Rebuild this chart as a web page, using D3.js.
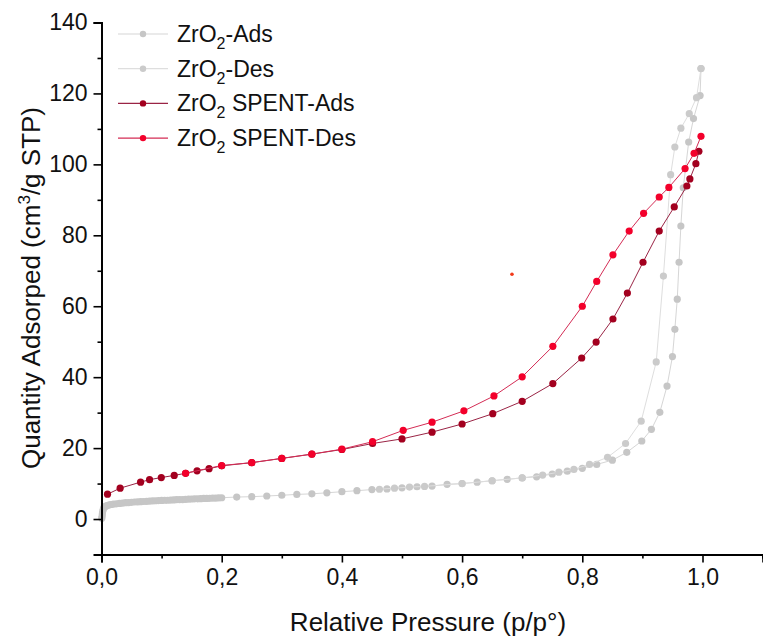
<!DOCTYPE html>
<html>
<head>
<meta charset="utf-8">
<script src="https://cdn.jsdelivr.net/npm/d3@7"></script>
<style>
  body { margin: 0; background: #fff; }
  svg { display: block; font-family: "Liberation Sans", Arial, sans-serif; }
</style>
</head>
<body>
<svg id="chart" width="763" height="643"></svg>
<script>
// isotherm data, [p/p°, quantity adsorbed]
var zrAds = [
  [0.0005, 0.2], [0.001, 0.8], [0.0015, 1.5], [0.002, 2.2], [0.003, 2.8], [0.004, 3.2],
  [0.006, 3.5], [0.008, 3.7], [0.010, 3.8], [0.013, 4.0], [0.016, 4.1], [0.020, 4.2],
  [0.025, 4.3], [0.030, 4.4], [0.035, 4.5], [0.040, 4.6], [0.045, 4.65], [0.050, 4.7],
  [0.055, 4.8], [0.060, 4.85], [0.065, 4.9], [0.070, 4.95], [0.075, 5.0], [0.080, 5.05],
  [0.085, 5.1], [0.090, 5.15], [0.095, 5.2], [0.100, 5.25], [0.105, 5.3], [0.110, 5.3],
  [0.115, 5.35], [0.120, 5.4], [0.125, 5.45], [0.130, 5.5], [0.135, 5.5], [0.140, 5.55],
  [0.145, 5.6], [0.150, 5.65], [0.155, 5.7], [0.160, 5.7], [0.165, 5.75], [0.170, 5.8],
  [0.175, 5.8], [0.180, 5.85], [0.185, 5.9], [0.190, 5.9], [0.195, 5.95], [0.200, 6.0],
  [0.225, 6.2], [0.250, 6.3], [0.275, 6.5], [0.300, 6.7], [0.325, 6.95], [0.350, 7.1],
  [0.375, 7.4], [0.400, 7.7], [0.425, 8.0], [0.450, 8.3], [0.475, 8.5], [0.500, 8.8],
  [0.525, 9.1], [0.550, 9.3], [0.575, 9.8], [0.600, 10.0], [0.625, 10.4], [0.650, 10.8],
  [0.675, 11.2], [0.700, 11.6], [0.724, 11.9], [0.750, 12.7], [0.775, 13.5], [0.800, 14.3],
  [0.824, 15.4], [0.850, 16.6], [0.874, 18.8], [0.899, 22.0], [0.915, 25.3], [0.929, 30.1],
  [0.941, 37.5], [0.950, 45.8], [0.954, 53.5], [0.958, 62.0], [0.961, 72.4], [0.964, 82.6],
  [0.968, 93.4], [0.977, 106.3], [0.985, 112.9], [0.996, 119.4], [0.9975, 127.0]
];
var zrDes = [
  [0.9975, 127.0], [0.990, 118.8], [0.978, 114.3], [0.964, 110.2], [0.954, 104.9],
  [0.947, 97.1], [0.935, 68.5], [0.923, 44.3], [0.898, 27.6], [0.872, 21.3], [0.842, 17.4],
  [0.812, 15.4], [0.786, 14.0], [0.761, 13.2], [0.734, 12.4], [0.700, 11.6], [0.650, 10.8],
  [0.600, 10.0], [0.5375, 9.2], [0.5125, 9.0], [0.4875, 8.7], [0.4625, 8.4]
];
var spentAds = [
  [0.010, 7.0], [0.031, 8.7], [0.065, 10.4], [0.080, 11.1], [0.0995, 11.7], [0.121, 12.3],
  [0.140, 12.9], [0.159, 13.6], [0.179, 14.2], [0.200, 15.0], [0.250, 15.9], [0.300, 17.1],
  [0.350, 18.3], [0.400, 19.6], [0.451, 21.3], [0.500, 22.6], [0.550, 24.5], [0.600, 26.8],
  [0.651, 29.7], [0.700, 33.2], [0.751, 38.2], [0.799, 45.4], [0.823, 49.9], [0.851, 56.4],
  [0.875, 63.7], [0.901, 72.4], [0.928, 81.2], [0.953, 88.0], [0.974, 93.9], [0.979, 95.9],
  [0.989, 100.2], [0.994, 103.7]
];
var spentDes = [
  [0.9975, 107.9], [0.986, 103.1], [0.971, 98.8], [0.944, 93.5], [0.928, 90.8],
  [0.902, 86.2], [0.878, 81.2], [0.851, 74.5], [0.824, 67.0], [0.800, 60.0], [0.751, 48.7],
  [0.700, 40.1], [0.653, 34.7], [0.603, 30.5], [0.550, 27.3], [0.502, 25.0], [0.451, 21.8],
  [0.400, 19.7], [0.350, 18.3], [0.300, 17.1], [0.250, 15.9], [0.200, 15.1], [0.140, 12.9]
];
var strayPoint = [[0.683, 69.0]];

var xTicks = [0, 0.2, 0.4, 0.6, 0.8, 1.0];
var xMinor = [0.1, 0.3, 0.5, 0.7, 0.9, 1.1];
var yTicks = [0, 20, 40, 60, 80, 100, 120, 140];
var yMinor = [-10, 10, 30, 50, 70, 90, 110, 130];

var series = [
  { name: 'ZrO', sub: '2', rest: '-Ads', data: zrAds, dot: '#c6c6c6', line: '#d6d6d6' },
  { name: 'ZrO', sub: '2', rest: '-Des', data: zrDes, dot: '#cbcbcb', line: '#dedede' },
  { name: 'ZrO', sub: '2', rest: ' SPENT-Ads', data: spentAds, dot: '#a3001f', line: '#9a2445' },
  { name: 'ZrO', sub: '2', rest: ' SPENT-Des', data: spentDes, dot: '#f3002b', line: '#d42c55' }
];

var svg = d3.select('#chart');
var x = d3.scaleLinear().domain([0, 1.1]).range([101.5, 762.6]);
var y = d3.scaleLinear().domain([-10, 140]).range([554.5, 22.5]);

var line = d3.line()
  .x(function(d) { return x(d[0]); })
  .y(function(d) { return y(d[1]); });

var plot = svg.append('g');
series.forEach(function(s) {
  plot.append('path').datum(s.data).attr('d', line)
    .attr('fill', 'none').attr('stroke', s.line).attr('stroke-width', 1);
  plot.selectAll(null).data(s.data).enter().append('circle')
    .attr('cx', function(d) { return x(d[0]); })
    .attr('cy', function(d) { return y(d[1]); })
    .attr('r', 3.6)
    .attr('fill', s.dot);
});
plot.selectAll(null).data(strayPoint).enter().append('circle')
  .attr('cx', function(d) { return x(d[0]); })
  .attr('cy', function(d) { return y(d[1]); })
  .attr('r', 1.8).attr('fill', '#f23a1a');

// axes
svg.append('g').attr('transform', 'translate(0,' + y(-10) + ')')
  .call(d3.axisBottom(x).tickValues(xTicks).tickSize(8).tickPadding(6)
    .tickFormat(function(d) { return d3.format('.1f')(d).replace('.', ','); }));
svg.append('g').attr('transform', 'translate(0,' + y(-10) + ')')
  .call(d3.axisBottom(x).tickValues(xMinor).tickSize(4).tickFormat(''));
svg.append('g').attr('transform', 'translate(' + x(0) + ',0)')
  .call(d3.axisLeft(y).tickValues(yTicks).tickSize(8).tickPadding(6));
svg.append('g').attr('transform', 'translate(' + x(0) + ',0)')
  .call(d3.axisLeft(y).tickValues(yMinor).tickSize(4).tickFormat(''));

svg.selectAll('.domain').attr('stroke', '#000').attr('stroke-width', 1.8);
svg.selectAll('.tick line').attr('stroke', '#000').attr('stroke-width', 1.6);
svg.selectAll('.tick text').attr('font-size', 23).attr('fill', '#111')
  .attr('font-family', '"Liberation Sans", Arial, sans-serif');

// axis titles
svg.append('text').attr('x', 428).attr('y', 631).attr('text-anchor', 'middle')
  .attr('font-size', 26).attr('fill', '#111').text('Relative Pressure (p/p°)');

var yt = svg.append('text').attr('transform', 'translate(40,288) rotate(-90)')
  .attr('text-anchor', 'middle').attr('font-size', 26).attr('fill', '#111');
yt.append('tspan').text('Quantity Adsorped (cm');
yt.append('tspan').attr('dy', -10).attr('font-size', 17).text('3');
yt.append('tspan').attr('dy', 10).text('/g STP)');

// legend
var legend = svg.append('g');
series.forEach(function(s, i) {
  var ly = 34 + i * 34.7;
  legend.append('line').attr('x1', 118).attr('x2', 168).attr('y1', ly).attr('y2', ly)
    .attr('stroke', s.line).attr('stroke-width', 1.2);
  legend.append('circle').attr('cx', 143).attr('cy', ly).attr('r', 3.2).attr('fill', s.dot);
  var t = legend.append('text').attr('x', 177).attr('y', ly + 8)
    .attr('font-size', 23).attr('fill', '#111');
  t.append('tspan').text(s.name);
  t.append('tspan').attr('dy', 7).attr('font-size', 16).text(s.sub);
  t.append('tspan').attr('dy', -7).text(s.rest);
});
</script>
</body>
</html>
